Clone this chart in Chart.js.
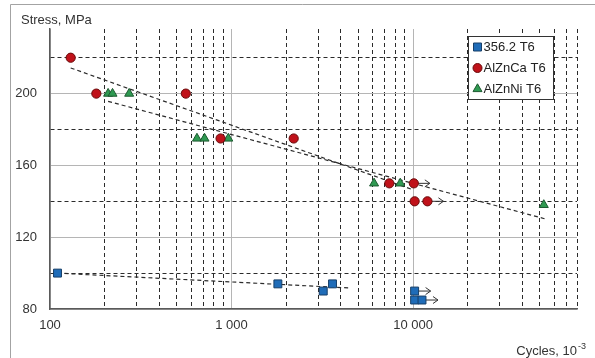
<!DOCTYPE html>
<html lang="en">
<head>
    <meta charset="UTF-8">
    <title>Stress vs cycles</title>
    <script src="https://cdn.jsdelivr.net/npm/chart.js"></script>
    <style>
        html, body { margin: 0; padding: 0; background: #fff; }
        #wrap { width: 595px; height: 358px; }
    </style>
</head>
<body>
<div id="wrap"><canvas id="chart_sn" width="595" height="358"></canvas></div>

<script>
// 356.2 T6
const alloy356X = [110, 1800, 3200, 3600, 10200, 10200, 11200];
const alloy356Y = [100, 94, 90, 94, 90, 85, 85];
const alloy356Runout = [false, false, false, false, true, false, true];

// AlZnCa T6
const alZnCaX = [130, 180, 560, 870, 2200, 7400, 10100, 10200, 12000];
const alZnCaY = [220, 200, 200, 175, 175, 150, 150, 140, 140];
const alZnCaRunout = [false, false, false, false, false, false, true, false, true];

// AlZnNi T6
const alZnNiX = [209, 221, 273, 645, 710, 960, 6100, 8500, 52500];
const alZnNiY = [200, 200, 200, 175, 175, 175, 150, 150, 138];
const alZnNiRunout = [false, false, false, false, false, false, false, false, false];

// trend lines (end points)
const trend356X = [110, 4500];
const trend356Y = [100, 91.7];
const trendCaX = [130, 10000];
const trendCaY = [214.3, 146.4];
const trendNiX = [209, 53000];
const trendNiY = [195.7, 130.3];

// axes
const xTickValues = [100, 200, 300, 400, 500, 600, 700, 800, 900,
    1000, 2000, 3000, 4000, 5000, 6000, 7000, 8000, 9000,
    10000, 20000, 30000, 40000, 50000, 60000, 70000, 80000];
const xLabelValues = [100, 1000, 10000];
const xLabelText = ['100', '1 000', '10 000'];
const yTickValues = [80, 100, 120, 140, 160, 180, 200, 220];
const yLabelValues = [80, 120, 160, 200];

const seriesNames = ['356.2 T6', 'AlZnCa T6', 'AlZnNi T6'];

const FONT = "'Liberation Sans', Arial, sans-serif";
Chart.defaults.font.family = FONT;

const toPoints = (xs, ys) => xs.map((x, i) => ({ x: x, y: ys[i] }));
const isDecade = v => xLabelValues.includes(v);

// shared dash for gridlines that are not on a labelled tick
function gridColor(labelled) {
    return ctx => (ctx.tick && labelled(ctx.tick.value)) ? '#b5b5b5' : '#2b2b2b';
}
function gridDash(labelled) {
    return ctx => (ctx.tick && !labelled(ctx.tick.value)) ? [4, 3] : [];
}

// draws the marker shape used in the legend
function drawMarker(ctx, style, x, y, fill, stroke) {
    ctx.save();
    ctx.fillStyle = fill;
    ctx.strokeStyle = stroke;
    ctx.lineWidth = 1;
    ctx.beginPath();
    if (style === 'rect') {
        ctx.rect(x - 4, y - 4, 8, 8);
    } else if (style === 'circle') {
        ctx.arc(x, y, 4.5, 0, Math.PI * 2);
    } else {
        ctx.moveTo(x, y - 5.2);
        ctx.lineTo(x + 4.5, y + 2.6);
        ctx.lineTo(x - 4.5, y + 2.6);
        ctx.closePath();
    }
    ctx.fill();
    ctx.stroke();
    ctx.restore();
}

const decorations = {
    id: 'decorations',
    beforeDraw(chart) {
        const ctx = chart.ctx;
        ctx.save();
        ctx.fillStyle = '#fff';
        ctx.fillRect(0, 0, chart.width, chart.height);
        ctx.strokeStyle = '#a3a3a3';
        ctx.lineWidth = 1;
        ctx.beginPath();
        ctx.moveTo(10.5, chart.height);
        ctx.lineTo(10.5, 4.5);
        ctx.lineTo(chart.width, 4.5);
        ctx.stroke();
        ctx.restore();
    },
    beforeDatasetsDraw(chart) {
        // run-out arrows
        const ctx = chart.ctx;
        const runouts = [alloy356Runout, alZnCaRunout, alZnNiRunout];
        ctx.save();
        ctx.strokeStyle = '#333';
        ctx.lineWidth = 1;
        runouts.forEach((flags, d) => {
            const meta = chart.getDatasetMeta(d);
            flags.forEach((f, i) => {
                if (!f) return;
                const p = meta.data[i];
                const tip = p.x + 16;
                ctx.beginPath();
                ctx.moveTo(p.x, p.y);
                ctx.lineTo(tip, p.y);
                ctx.moveTo(tip - 5, p.y - 3.5);
                ctx.lineTo(tip, p.y);
                ctx.lineTo(tip - 5, p.y + 3.5);
                ctx.stroke();
            });
        });
        ctx.restore();
    },
    afterDraw(chart) {
        const ctx = chart.ctx;
        ctx.save();
        ctx.fillStyle = '#333';
        ctx.font = '13px ' + FONT;
        ctx.textBaseline = 'middle';
        ctx.textAlign = 'left';
        ctx.fillText('Stress, MPa', 21, 20);

        ctx.textBaseline = 'alphabetic';
        ctx.textAlign = 'right';
        ctx.fillText('Cycles, 10', 577, 355);
        ctx.font = '9px ' + FONT;
        ctx.textAlign = 'left';
        ctx.fillText('-3', 578, 349);

        // legend
        ctx.fillStyle = '#fff';
        ctx.fillRect(468.5, 36.5, 85, 63);
        ctx.strokeStyle = '#333';
        ctx.lineWidth = 1;
        ctx.strokeRect(468.5, 36.5, 85, 63);
        const styles = ['rect', 'circle', 'triangle'];
        styles.forEach((s, i) => {
            const ds = chart.data.datasets[i];
            const y = 47 + i * 21;
            drawMarker(ctx, s, 477.5, y, ds.backgroundColor, ds.borderColor);
            ctx.fillStyle = '#222';
            ctx.font = '13px ' + FONT;
            ctx.textBaseline = 'middle';
            ctx.textAlign = 'left';
            ctx.fillText(seriesNames[i], 483.5, y + 0.5);
        });
        ctx.restore();
    }
};

const trendStyle = {
    type: 'line',
    showLine: true,
    pointRadius: 0,
    borderColor: '#2b2b2b',
    borderWidth: 1.2,
    borderDash: [4, 3],
    fill: false,
    order: 10
};

new Chart(document.getElementById('chart_sn').getContext('2d'), {
    type: 'scatter',
    data: {
        datasets: [
            { label: seriesNames[0], data: toPoints(alloy356X, alloy356Y), pointStyle: 'rect', pointRadius: 5.6,
              backgroundColor: '#1f6cb8', borderColor: '#173f68', borderWidth: 1 },
            { label: seriesNames[1], data: toPoints(alZnCaX, alZnCaY), pointStyle: 'circle', pointRadius: 4.6,
              backgroundColor: '#c0121a', borderColor: '#6a0a0a', borderWidth: 1 },
            { label: seriesNames[2], data: toPoints(alZnNiX, alZnNiY), pointStyle: 'triangle', pointRadius: 5.2,
              backgroundColor: '#2f9a52', borderColor: '#1d5a30', borderWidth: 1 },
            Object.assign({ label: 'trend 356', data: toPoints(trend356X, trend356Y) }, trendStyle),
            Object.assign({ label: 'trend Ca', data: toPoints(trendCaX, trendCaY) }, trendStyle),
            Object.assign({ label: 'trend Ni', data: toPoints(trendNiX, trendNiY) }, trendStyle)
        ]
    },
    options: {
        responsive: false,
        animation: false,
        devicePixelRatio: 1,
        layout: { padding: { top: 29, right: 18, left: 0, bottom: 0 } },
        plugins: { legend: { display: false }, tooltip: { enabled: false } },
        scales: {
            x: {
                type: 'logarithmic',
                min: 100,
                max: 80000,
                afterBuildTicks: scale => { scale.ticks = xTickValues.map(v => ({ value: v })); },
                afterFit: scale => { scale.height = 49; },
                ticks: {
                    autoSkip: false,
                    maxRotation: 0,
                    padding: 9,
                    color: '#333',
                    font: { size: 13 },
                    callback: v => { const k = xLabelValues.indexOf(v); return k >= 0 ? xLabelText[k] : ''; }
                },
                grid: { color: gridColor(isDecade), lineWidth: 1, drawTicks: false },
                border: { color: '#5a5a5a', width: 1.5, dash: gridDash(isDecade) }
            },
            y: {
                min: 80,
                max: 236,
                afterBuildTicks: scale => { scale.ticks = yTickValues.map(v => ({ value: v })); },
                afterFit: scale => { scale.width = 50; },
                ticks: {
                    padding: 13,
                    color: '#333',
                    font: { size: 13 },
                    callback: v => yLabelValues.includes(v) ? String(v) : ''
                },
                grid: { color: gridColor(v => yLabelValues.includes(v)), lineWidth: 1, drawTicks: false },
                border: { color: '#5a5a5a', width: 1.5, dash: gridDash(v => yLabelValues.includes(v)) }
            }
        }
    },
    plugins: [decorations]
});
</script>
</body>
</html>
